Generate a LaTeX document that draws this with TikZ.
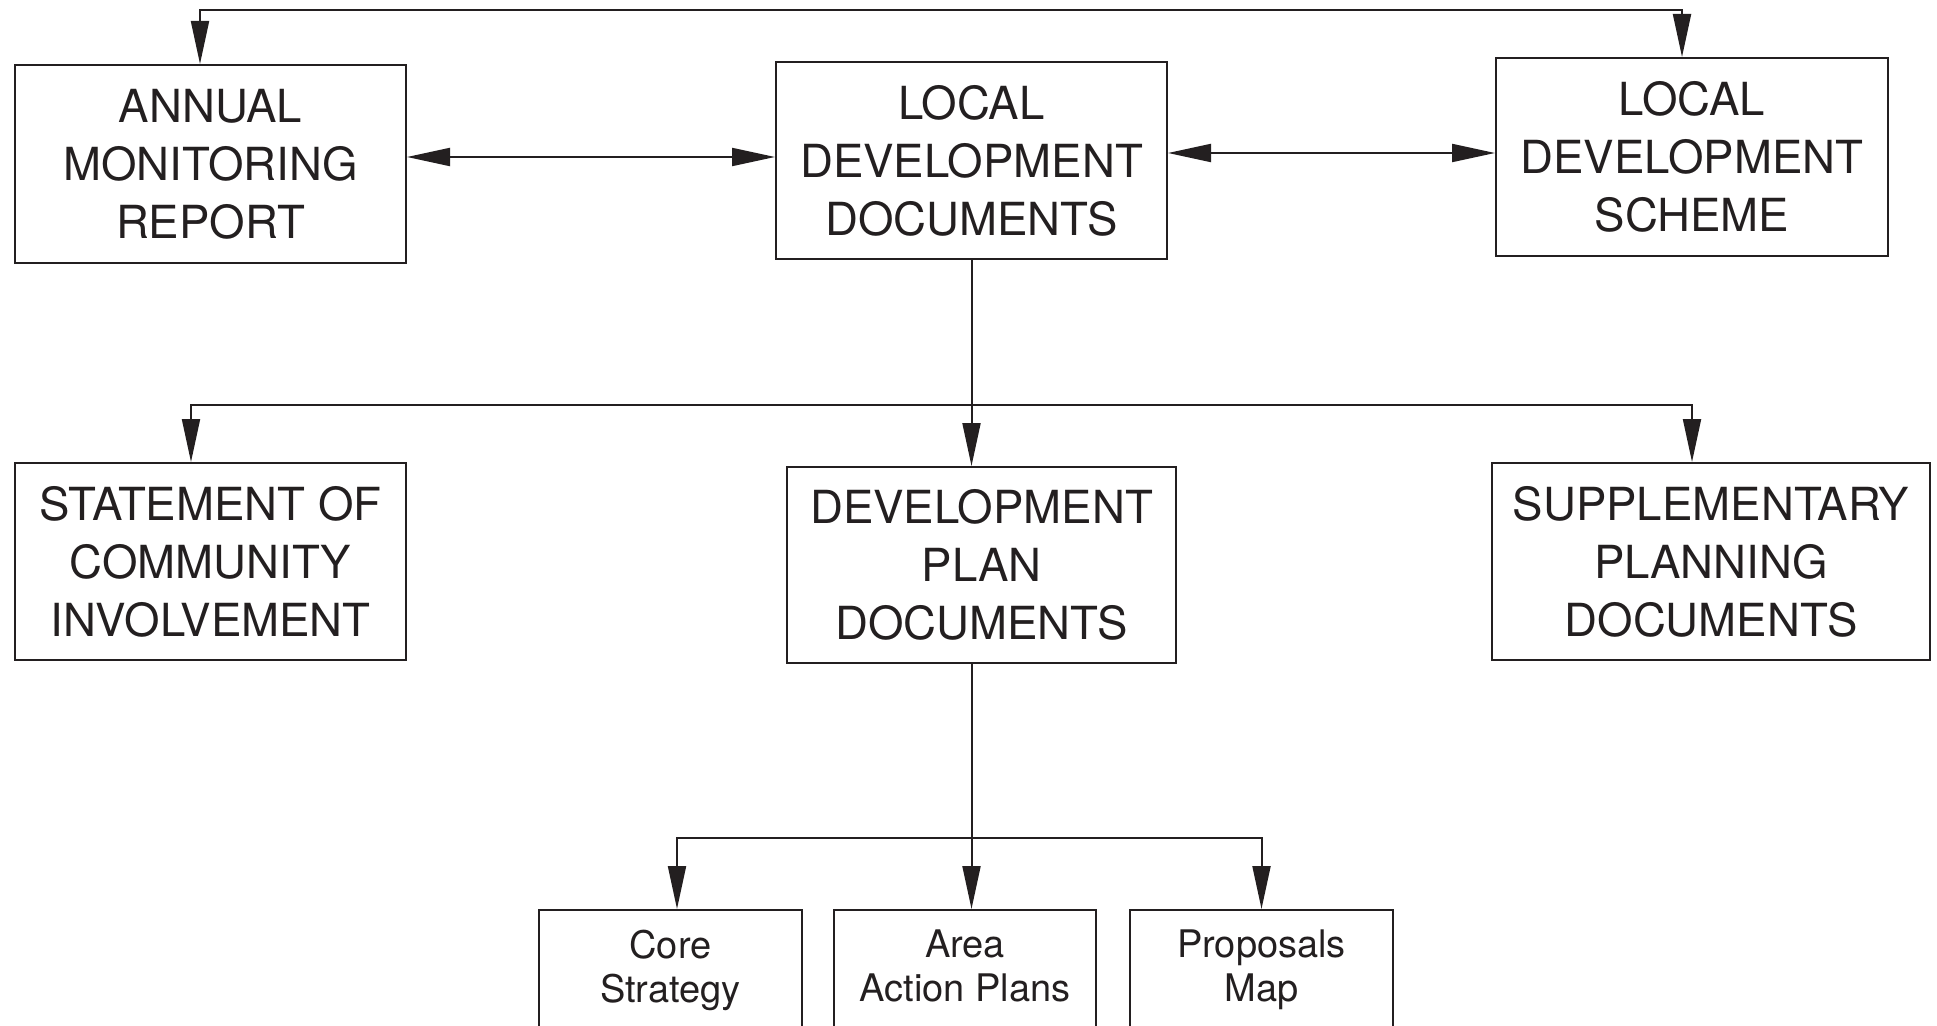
\documentclass[tikz,border=0pt]{standalone}
\usepackage{fontspec}
\setmainfont{TeX Gyre Heros}
\usetikzlibrary{arrows.meta}
\definecolor{ink}{HTML}{231F20}
\begin{document}
\begin{tikzpicture}[x=0.5pt,y=-0.5pt,
  line width=1pt, draw=ink, text=ink,
  bigbox/.style={draw, line width=1pt, inner sep=0pt, align=center,
    font=\fontsize{22.8}{29}\selectfont},
  smallbox/.style={draw, line width=1pt, inner xsep=0pt, inner ysep=10pt, anchor=north,
    font=\fontsize{19}{22}\selectfont},
  tip/.style={-{Triangle[length=21.5pt,width=9pt]}},
  dbl/.style={{Triangle[length=21.5pt,width=9pt]}-{Triangle[length=21.5pt,width=9pt]}}
]
\useasboundingbox (0,0) rectangle (1937,1026);
\clip (0,0) rectangle (1937,1026);
% top row
\node[bigbox, minimum width=195.5pt, minimum height=99pt] (amr) at (210.5,164) {ANNUAL\\MONITORING\\REPORT};
\node[bigbox, minimum width=195.5pt, minimum height=98.5pt] (ldd) at (971.5,160.5) {LOCAL\\DEVELOPMENT\\DOCUMENTS};
\node[bigbox, minimum width=196pt, minimum height=99pt] (lds) at (1692,157) {LOCAL\\DEVELOPMENT\\SCHEME};
% middle row
\node[bigbox, minimum width=195.5pt, minimum height=98.5pt] (sci) at (210.5,561.5) {STATEMENT OF\\COMMUNITY\\INVOLVEMENT};
\node[bigbox, minimum width=194.5pt, minimum height=98pt] (dpd) at (981.5,565) {DEVELOPMENT\\PLAN\\DOCUMENTS};
\node[bigbox, minimum width=219pt, minimum height=98.5pt] (spd) at (1711,561.5) {SUPPLEMENTARY\\PLANNING\\DOCUMENTS};
% bottom row
\node[smallbox] (core) at (670.5,909) {\parbox[c][90pt][t]{131.5pt}{\centering Core\\Strategy}};
\node[smallbox] (area) at (965,909) {\parbox[c][90pt][t]{131pt}{\centering Area\\Action Plans}};
\node[smallbox] (prop) at (1261.5,909) {\parbox[c][90pt][t]{131.5pt}{\centering Proposals\\Map}};
% connectors
\coordinate (topline) at (970,10);
\coordinate (r1) at (0,157);
\coordinate (r2) at (0,153);
\coordinate (b1) at (971.5,405);
\coordinate (b2) at (971.5,838);
\draw[dbl] ([xshift=-5.25pt]amr.north) |- (topline) -| ([xshift=-5pt]lds.north);
\draw[dbl] (amr.east |- r1) -- (ldd.west |- r1);
\draw[dbl] (ldd.east |- r2) -- (lds.west |- r2);
\draw[tip] (ldd.south) -- (ldd.south |- dpd.north);
\draw[tip] (b1) -| ([xshift=-9.75pt]sci.north);
\draw[tip] (b1) -| ([xshift=-9.5pt]spd.north);
\draw (ldd.south |- dpd.south) -- (b2);
\draw[tip] (b2) -- (b2 |- area.north);
\draw[tip] (b2) -| ([xshift=3.25pt]core.north);
\draw[tip] (b2) -| (prop.north);
\end{tikzpicture}
\end{document}
